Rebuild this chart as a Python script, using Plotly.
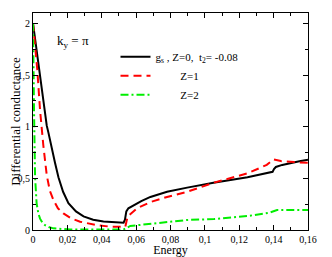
import plotly.graph_objects as go

# Black: g_s, Z=0, t2=-0.08
x_black = [0, 0.0035, 0.007, 0.008, 0.009, 0.0109, 0.0128, 0.0148, 0.0175, 0.0206, 0.025, 0.0294, 0.035,
           0.041, 0.047, 0.0527, 0.0535, 0.0543, 0.0555, 0.0586, 0.063, 0.0683, 0.078, 0.0897,
           0.105, 0.1248, 0.1394, 0.1402, 0.1413, 0.145, 0.150, 0.155, 0.16]
y_black = [2.0, 1.55, 1.1, 1.01, 0.94, 0.81, 0.65, 0.51, 0.37, 0.26, 0.18, 0.132, 0.1,
           0.082, 0.073, 0.07, 0.1, 0.18, 0.21, 0.24, 0.28, 0.32, 0.37, 0.41,
           0.457, 0.51, 0.563, 0.59, 0.61, 0.63, 0.65, 0.665, 0.68]

# Red dashed: Z=1
x_red = [0, 0.0025, 0.0041, 0.005, 0.006, 0.008, 0.0098, 0.0119, 0.0145, 0.0177, 0.022, 0.0274, 0.037, 0.045, 0.0527, 0.0537,
         0.055, 0.0605, 0.0683, 0.078, 0.0897, 0.105, 0.1248, 0.136, 0.14, 0.1442, 0.152, 0.16]
y_red = [2.0, 1.55, 1.16, 0.98, 0.82, 0.53, 0.38, 0.29, 0.21, 0.16, 0.115, 0.08, 0.048, 0.032, 0.026, 0.03,
         0.13, 0.21, 0.27, 0.32, 0.37, 0.457, 0.548, 0.63, 0.683, 0.667, 0.657, 0.65]

# Green dash-dot: Z=2
x_green = [0, 0.0002, 0.0006, 0.0012, 0.0021, 0.0031, 0.0041, 0.0055, 0.007, 0.0095, 0.0119, 0.0216, 0.035,
           0.0527, 0.0566, 0.0683, 0.0897, 0.1053, 0.1248, 0.1374, 0.142, 0.15, 0.16]
y_green = [2.0, 1.6, 1.16, 0.515, 0.258, 0.16, 0.11, 0.07, 0.048, 0.027, 0.016, 0.005, 0.005,
           0.005, 0.039, 0.058, 0.097, 0.106, 0.135, 0.167, 0.193, 0.193, 0.193]

names = ["g<sub>s</sub> , Z=0,  t<sub>2</sub>= -0.08",
         "\u00a0\u00a0\u00a0\u00a0\u00a0\u00a0\u00a0\u00a0\u00a0Z=1",
         "\u00a0\u00a0\u00a0\u00a0\u00a0\u00a0\u00a0\u00a0\u00a0Z=2"]

x_tickvals = [0, 0.02, 0.04, 0.06, 0.08, 0.1, 0.12, 0.14, 0.16]
x_ticktext = ["0", "0,02", "0,04", "0,06", "0,08", "0,1", "0,12", "0,14", "0,16"]
y_tickvals = [0, 0.5, 1, 1.5, 2]
y_ticktext = ["0", "0,5", "1", "1,5", "2"]

font = '"Liberation Serif", "Times New Roman", Times, serif'

fig = go.Figure()
fig.add_trace(go.Scatter(x=x_black, y=y_black, mode="lines", name=names[0],
                         line=dict(color="black", width=2)))
fig.add_trace(go.Scatter(x=x_red, y=y_red, mode="lines", name=names[1],
                         line=dict(color="#ff0000", width=2, dash="8px,5px")))
fig.add_trace(go.Scatter(x=x_green, y=y_green, mode="lines", name=names[2],
                         line=dict(color="#00ee00", width=2, dash="8px,3px,2px,3px")))

axis_common = dict(showgrid=False, zeroline=False, showline=True, linecolor="black", linewidth=1,
                   mirror="allticks", ticks="inside", ticklen=5, tickcolor="black", automargin=False,
                   tickfont=dict(family=font, size=10, color="black"))

fig.update_xaxes(range=[0, 0.16], tickvals=x_tickvals, ticktext=x_ticktext,
                 minor=dict(ticks="inside", ticklen=3, dtick=0.01, tick0=0, tickcolor="black"),
                 title=dict(text="Energy", font=dict(family=font, size=12, color="black"), standoff=2),
                 **axis_common)
fig.update_yaxes(range=[0, 2.1], tickvals=y_tickvals, ticktext=y_ticktext,
                 minor=dict(ticks="inside", ticklen=3, dtick=0.25, tick0=0, tickcolor="black"),
                 title=dict(text="Differential conductance", font=dict(family=font, size=13, color="black"), standoff=0),
                 **axis_common)

fig.add_annotation(text="k<sub>y</sub> = π", xref="paper", yref="paper", x=0.145, y=0.87,
                   xanchor="center", yanchor="middle",
                   showarrow=False, font=dict(family=font, size=13, color="black"))

fig.update_layout(
    width=324, height=249,
    margin=dict(l=25, r=24, t=5, b=27),
    paper_bgcolor="white", plot_bgcolor="white",
    showlegend=True,
    legend=dict(x=0.30, y=0.865, xanchor="left", yanchor="top", bgcolor="rgba(0,0,0,0)",
                font=dict(family=font, size=11, color="black"), itemwidth=30, tracegroupgap=0),
)

fig.write_html("out.html")
